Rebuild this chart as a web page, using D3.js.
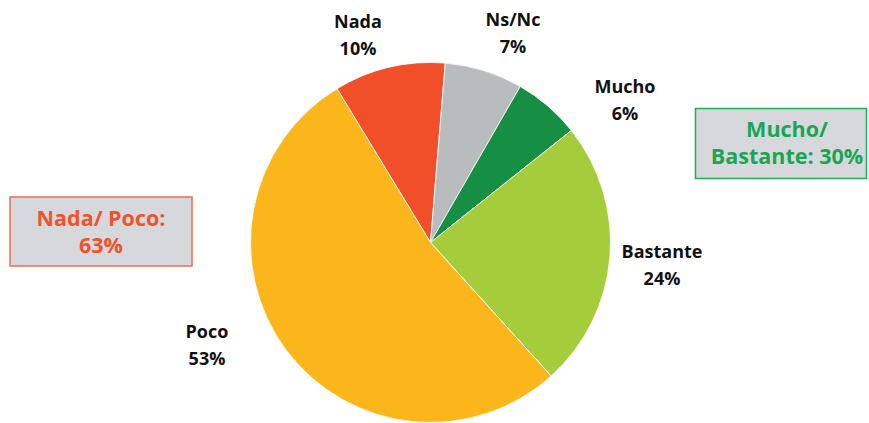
<!DOCTYPE html>
<html><head><meta charset="utf-8">
<script src="https://cdn.jsdelivr.net/npm/d3@7"></script>
<style>
html,body{margin:0;padding:0;background:#fff;}
svg{display:block;font-family:"Open Sans",sans-serif;}
</style></head>
<body>
<svg id="chart" width="869" height="423"></svg>
<script>
const categories = ["Nada", "Ns/Nc", "Mucho", "Bastante", "Poco"];
const values = [10, 7, 6, 24, 53];
const colors = ["#F04F29", "#B8BCBF", "#168F45", "#A5CD3B", "#FBB61C"];
const labelPos = [[358, 28], [513, 26], [625, 93], [662, 258], [207, 338]];
const groupLabels = [["Nada/ Poco:", "63%"], ["Mucho/", "Bastante: 30%"]];
const groupColors = ["#F0532B", "#19A654"];
const groupBorders = ["#F26B4B", "#1DAE5A"];

const svg = d3.select("#chart");
const cx = 430.5, cy = 242.5, r = 180;
const startDeg = -31.3;

const pie = d3.pie().sort(null).value(d => d)
  .startAngle(startDeg * Math.PI / 180)
  .endAngle((startDeg + 360) * Math.PI / 180);
const arc = d3.arc().innerRadius(0).outerRadius(r);
const arcs = pie(values);

const g = svg.append("g").attr("transform", `translate(${cx},${cy})`);
g.selectAll("path").data(arcs).enter().append("path")
  .attr("d", arc)
  .attr("fill", (d, i) => colors[i])
  .attr("stroke", "#fff").attr("stroke-width", 0.8);

categories.forEach((c, i) => {
  const t = svg.append("text").attr("text-anchor", "middle")
    .attr("font-weight", "bold").attr("font-size", 18).attr("fill", "#111");
  t.append("tspan").attr("x", labelPos[i][0]).attr("y", labelPos[i][1]).text(c);
  t.append("tspan").attr("x", labelPos[i][0]).attr("y", labelPos[i][1] + 27).text(values[i] + "%");
});

const boxes = [{x: 10, y: 197, w: 182, h: 69, cx: 101, ty: 226}, {x: 695.5, y: 108.5, w: 171, h: 70, cx: 787, ty: 137}];
boxes.forEach((b, i) => {
  svg.append("rect").attr("x", b.x).attr("y", b.y).attr("width", b.w).attr("height", b.h)
    .attr("fill", "#D6D8DB").attr("stroke", groupBorders[i]).attr("stroke-width", 1.5);
  const t = svg.append("text").attr("text-anchor", "middle")
    .attr("font-weight", "bold").attr("font-size", 21.5).attr("fill", groupColors[i]);
  t.append("tspan").attr("x", b.cx).attr("y", b.ty).text(groupLabels[i][0]);
  t.append("tspan").attr("x", b.cx).attr("y", b.ty + 27).text(groupLabels[i][1]);
});
</script>
</body></html>
